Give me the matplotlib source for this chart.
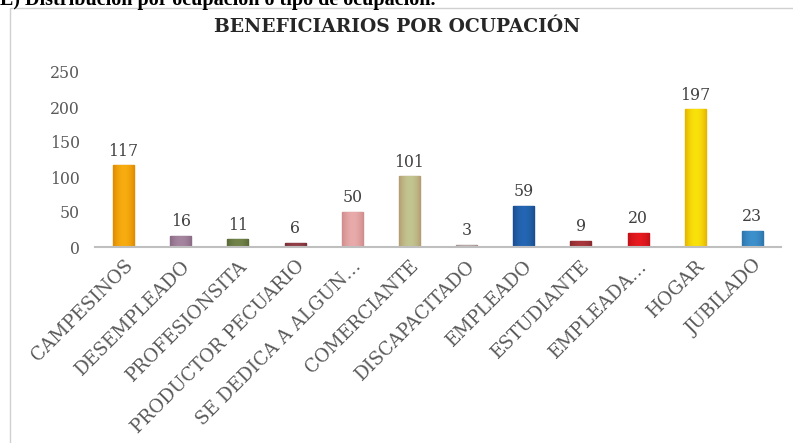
import numpy as np
import matplotlib.pyplot as plt
from matplotlib.colors import to_rgb
from matplotlib.patches import Rectangle

# datos
ocupaciones = ["CAMPESINOS", "DESEMPLEADO", "PROFESIONSITA", "PRODUCTOR PECUARIO",
               "SE DEDICA A ALGUN…", "COMERCIANTE", "DISCAPACITADO", "EMPLEADO",
               "ESTUDIANTE", "EMPLEADA…", "HOGAR", "JUBILADO"]
beneficiarios = [117, 16, 11, 6, 50, 101, 3, 59, 9, 20, 197, 23]
colores = ["#F7AC10", "#A5849F", "#72834A", "#943F47", "#E8AAAA", "#C3C590",
           "#BCA9A9", "#2466B3", "#A8373C", "#E61A1F", "#F9E20A", "#3C90CC"]
bordes = ["#E08A00", "#8A6A86", "#5A6A36", "#783038", "#CF8C8C", "#B39E72",
          "#A09090", "#1A4E90", "#8A2A2E", "#C41015", "#E6B400", "#2E75AC"]
yticks = [0, 50, 100, 150, 200, 250]

plt.rcParams['font.family'] = ['DejaVu Serif']

fig = plt.figure(figsize=(7.93, 4.43), dpi=100)

# marco del grafico
fig.patches.append(Rectangle((10 / 793, -0.01), 1.0, 1 - 8 / 443 + 0.01,
                             transform=fig.transFigure, fill=False,
                             edgecolor="#D0D0D0", linewidth=1.0))

# encabezado cortado arriba (como en la imagen)
fig.text(0.0, 1 - 5 / 443, "E) Distribución por ocupación o tipo de ocupación.",
         fontsize=14.5, fontweight="bold", ha="left", va="baseline", color="black",
         family="Liberation Serif")

fig.text(397 / 793, 1 - 27 / 443, "BENEFICIARIOS POR OCUPACIÓN",
         fontsize=13.5, fontweight="bold", ha="center", va="center", color="#262626")

ax = fig.add_axes([95 / 793, 1 - 247 / 443, 686 / 793, 175 / 443])
x = range(len(ocupaciones))
barras = ax.bar(x, beneficiarios, width=0.37, color=colores, edgecolor=bordes,
                linewidth=1.0, zorder=2)

# degradado horizontal tipo Excel
t = np.abs(np.linspace(-1, 1, 32)) ** 2
for b, c, e in zip(barras, colores, bordes):
    c1, c2 = np.array(to_rgb(c)), np.array(to_rgb(e))
    grad = (c1[None, :] * (1 - t[:, None]) + c2[None, :] * t[:, None])[None, :, :]
    bx, by = b.get_x(), b.get_y()
    im = ax.imshow(grad, extent=[bx, bx + b.get_width(), by, by + b.get_height()],
                   aspect="auto", zorder=2.5, interpolation="bilinear")
    im.set_clip_path(b)

ax.bar_label(barras, padding=4, fontsize=11.3, color="#404040")

ax.set_xlim(-0.5, len(ocupaciones) - 0.5)
ax.set_ylim(0, 250)
ax.set_yticks(yticks)
ax.set_yticklabels([str(v) for v in yticks], fontsize=11.3, color="#595959")
ax.tick_params(axis="y", length=0, pad=11)
ax.tick_params(axis="x", length=0, pad=7)
ax.set_xticks(list(x))
ax.set_xticklabels(ocupaciones, rotation=45, ha="right", va="top",
                   rotation_mode="anchor", fontsize=13.2, color="#595959")

for s in ["top", "right", "left"]:
    ax.spines[s].set_visible(False)
ax.spines["bottom"].set_color("#BFBFBF")
ax.spines["bottom"].set_linewidth(1.5)
ax.spines["bottom"].set_zorder(3)

fig.savefig("out.png", dpi=100)
